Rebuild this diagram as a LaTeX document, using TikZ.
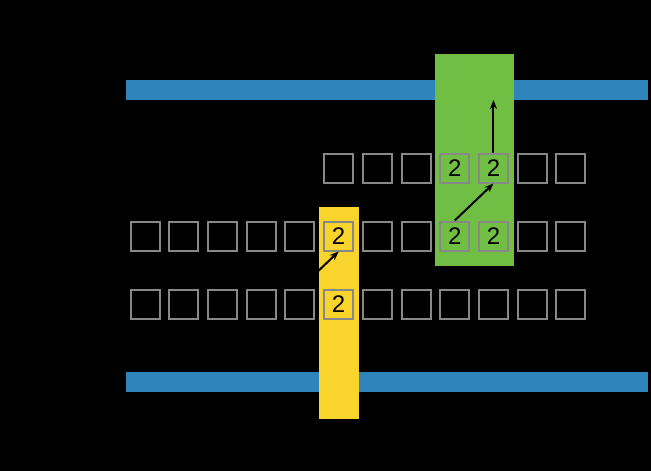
\documentclass[tikz,border=0pt]{standalone}
\usepackage{fontspec}
\setsansfont{Liberation Sans}
\usepackage{tikz}
\usetikzlibrary{matrix,arrows.meta}
\definecolor{bandblue}{RGB}{46,132,187}
\definecolor{leafgreen}{RGB}{112,190,68}
\definecolor{lemon}{RGB}{248,212,44}
\definecolor{boxgray}{RGB}{136,136,136}

\begin{document}
\begin{tikzpicture}[x=1pt,y=-1pt,
    cell/.style={draw=boxgray,line width=2pt,minimum size=29pt,inner sep=0pt,
      anchor=center,font=\sffamily\fontsize{24}{24}\selectfont}]
  \fill[black] (0,0) rectangle (651,471);
  \useasboundingbox (0,0) rectangle (651,471);
  \fill[bandblue] (126,80) rectangle (648,100);
  \fill[bandblue] (126,372) rectangle (648,392);
  \fill[leafgreen] (435,54) rectangle (514,266);
  \fill[lemon] (319,207) rectangle (359,419);
  \coordinate (upper) at (0,100);
  \matrix (m) at (358,236) [matrix of nodes,nodes={cell},row sep=37pt,
    column sep=7.7pt] {
    &&&&& \mbox{} & \mbox{} & \mbox{} & 2 & 2 & \mbox{} & \mbox{} \\
    \mbox{} & \mbox{} & \mbox{} & \mbox{} & \mbox{} & 2 & \mbox{} & \mbox{} & 2 & 2 & \mbox{} & \mbox{} \\
    \mbox{} & \mbox{} & \mbox{} & \mbox{} & \mbox{} & 2 & \mbox{} & \mbox{} & \mbox{} & \mbox{} & \mbox{} & \mbox{} \\};
  \path[-{Stealth[length=9pt,width=7pt]},line width=2pt] (m-3-5.north) edge (m-2-6.south)
    (m-2-9.north) edge (m-1-10.south)
    (m-1-10.north) edge (m-1-10 |- upper);
\end{tikzpicture}
\end{document}
